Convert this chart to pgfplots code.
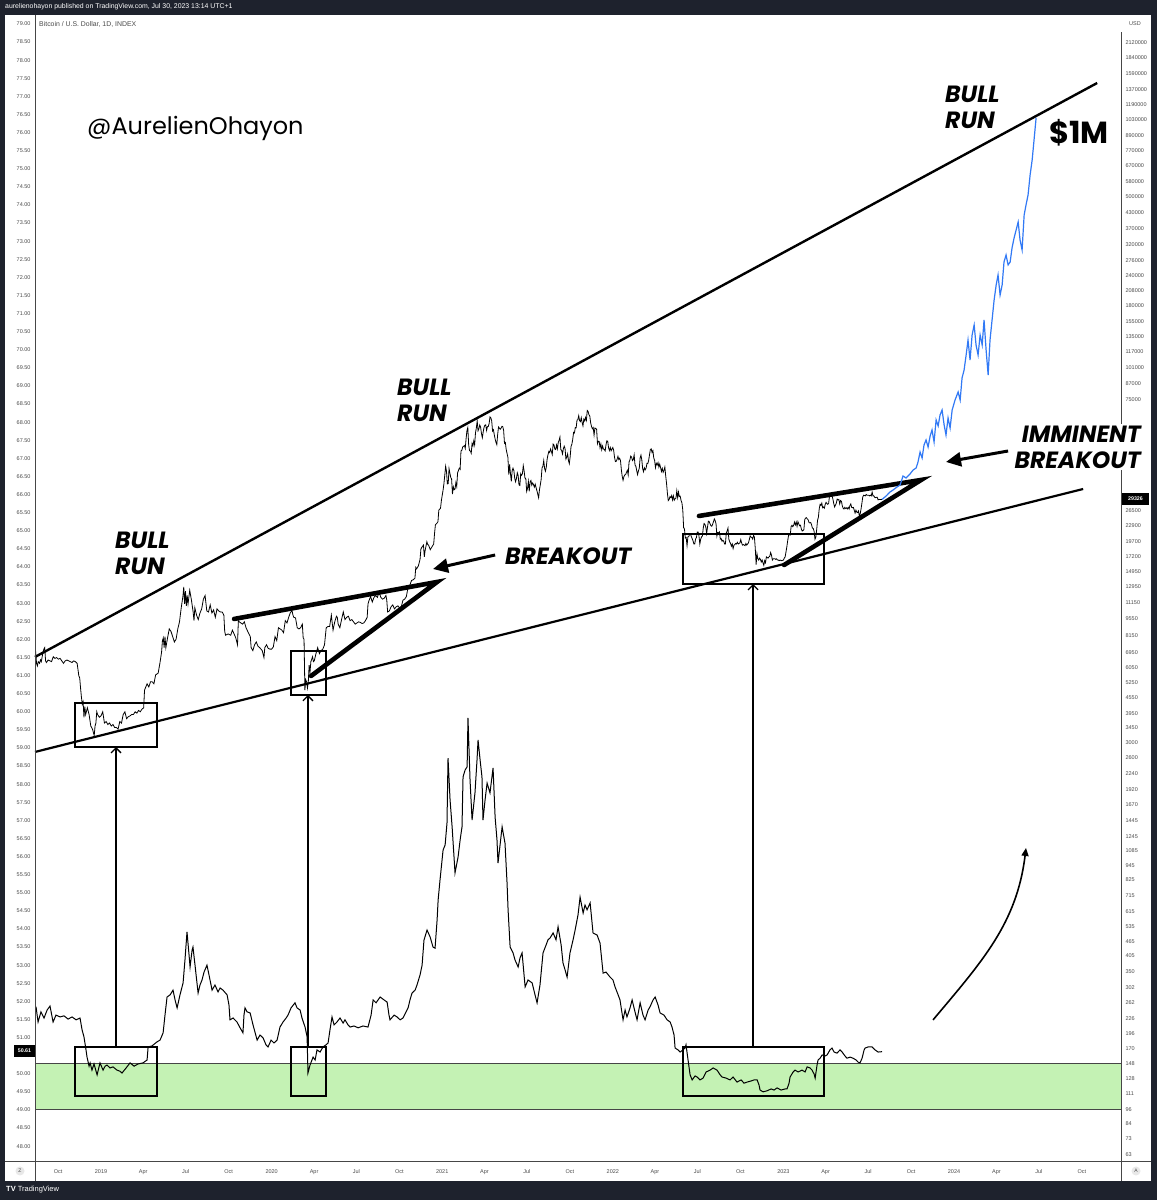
\documentclass[border=0pt]{standalone}
\usepackage{fontspec}
\setmainfont{Liberation Sans}
\newfontfamily\pop{Poppins}
\usepackage{pgfplots}
\pgfplotsset{compat=1.18}
\usetikzlibrary{arrows.meta}
\definecolor{tvdark}{RGB}{30,34,45}
\definecolor{tvgrey}{RGB}{75,75,75}
\definecolor{tvline}{RGB}{70,70,70}
\definecolor{bandgreen}{RGB}{196,242,180}
\definecolor{projblue}{RGB}{49,121,245}
\begin{document}
\begin{tikzpicture}[x=1pt,y=1pt]
\fill[tvdark] (0,0) rectangle (1157,1200);
\fill[white] (5,19) rectangle (1151,1185);
% ---------------- left (linear) axis: lower indicator ----------------
\begin{axis}[
  at={(35pt,39pt)}, anchor=south west, scale only axis,
  width=1086pt, height=1146pt,
  xmin=2018.613, xmax=2024.979, ymin=47.59, ymax=79.249,
  axis line style={draw=none}, tick style={draw=none},
  /pgf/number format/assume math mode=true,
  ytick={48,48.5,...,79},
  yticklabel={\pgfmathprintnumber[fixed,fixed zerofill,precision=2,assume math mode=true]{\tick}},
  yticklabel style={font=\fontsize{5.5}{6}\selectfont, text=tvgrey, anchor=east, xshift=-1pt},
  xtick={2018.748,2019,2019.247,2019.496,2019.748,2020,2020.249,2020.497,2020.749,2021,2021.247,2021.496,2021.748,2022,2022.247,2022.496,2022.748,2023,2023.247,2023.496,2023.748,2024,2024.249,2024.497,2024.749},
  xticklabels={Oct,2019,Apr,Jul,Oct,2020,Apr,Jul,Oct,2021,Apr,Jul,Oct,2022,Apr,Jul,Oct,2023,Apr,Jul,Oct,2024,Apr,Jul,Oct},
  xticklabel style={font=\fontsize{5.5}{6}\selectfont, text=tvgrey, anchor=center, yshift=-11pt},
  clip mode=individual,
]
\fill[bandgreen] (2018.613,49.0) rectangle (2024.979,50.27);
\draw[tvline, line width=1pt] (2018.613,50.27) -- (2024.979,50.27);
\draw[tvline, line width=1pt] (2018.613,49.0) -- (2024.979,49.0);
\addplot[black, line width=1pt] coordinates {
(2018.619,51.85)(2018.631,51.43)(2018.648,51.71)(2018.666,51.54)(2018.684,51.76)(2018.701,51.87)(2018.719,51.43)(2018.736,51.62)(2018.760,51.57)(2018.783,51.60)(2018.807,51.51)(2018.830,51.57)(2018.854,51.49)(2018.877,51.54)(2018.889,51.21)(2018.900,51.02)(2018.912,50.66)(2018.918,50.46)(2018.930,50.21)(2018.936,50.30)(2018.947,50.10)(2018.959,50.27)(2018.977,49.97)(2018.994,50.30)(2019.012,50.10)(2019.024,50.21)(2019.035,50.24)(2019.053,50.16)(2019.070,50.19)(2019.094,50.10)(2019.111,50.07)(2019.123,50.02)(2019.147,50.16)(2019.170,50.30)(2019.194,50.21)(2019.217,50.27)(2019.246,50.30)(2019.270,50.38)(2019.276,50.74)(2019.299,50.77)(2019.328,50.88)(2019.346,50.93)(2019.364,51.13)(2019.375,51.62)(2019.387,52.12)(2019.405,52.18)(2019.422,52.31)(2019.434,52.04)(2019.446,51.82)(2019.463,52.18)(2019.481,52.51)(2019.492,53.14)(2019.504,53.92)(2019.516,53.28)(2019.522,52.95)(2019.534,53.42)(2019.539,53.50)(2019.551,53.00)(2019.569,52.23)(2019.580,52.45)(2019.592,52.59)(2019.604,52.81)(2019.621,53.00)(2019.633,52.73)(2019.651,52.31)(2019.668,52.45)(2019.686,52.26)(2019.698,52.37)(2019.715,52.31)(2019.739,52.18)(2019.750,51.90)(2019.756,51.49)(2019.774,51.54)(2019.797,51.43)(2019.815,51.27)(2019.832,51.13)(2019.838,51.62)(2019.844,51.82)(2019.856,51.71)(2019.874,51.68)(2019.891,51.35)(2019.915,50.93)(2019.932,51.07)(2019.950,50.99)(2019.967,50.80)(2019.979,50.74)(2019.997,50.93)(2020.014,50.85)(2020.032,50.93)(2020.049,51.29)(2020.067,51.43)(2020.085,51.54)(2020.096,51.62)(2020.114,51.82)(2020.137,51.96)(2020.149,51.82)(2020.167,51.76)(2020.178,51.54)(2020.196,51.29)(2020.208,51.02)(2020.213,50.02)(2020.225,50.24)(2020.243,50.46)(2020.255,50.38)(2020.266,50.66)(2020.284,50.60)(2020.301,50.74)(2020.319,50.80)(2020.331,50.85)(2020.342,51.21)(2020.354,51.57)(2020.366,51.35)(2020.383,51.43)(2020.401,51.54)(2020.419,51.40)(2020.430,51.49)(2020.448,51.35)(2020.460,51.29)(2020.483,51.32)(2020.507,51.27)(2020.536,51.32)(2020.565,51.29)(2020.583,51.62)(2020.595,52.04)(2020.612,51.96)(2020.636,52.12)(2020.659,52.04)(2020.677,51.98)(2020.688,51.62)(2020.694,51.49)(2020.718,51.62)(2020.735,51.57)(2020.753,51.49)(2020.770,51.54)(2020.788,51.71)(2020.800,51.82)(2020.811,52.04)(2020.823,52.23)(2020.841,52.31)(2020.852,52.45)(2020.870,52.73)(2020.882,53.00)(2020.893,53.69)(2020.911,53.97)(2020.929,53.78)(2020.946,53.50)(2020.958,53.47)(2020.970,54.25)(2020.976,54.80)(2020.987,55.35)(2021.005,56.18)(2021.017,56.32)(2021.028,56.93)(2021.034,58.72)(2021.046,57.56)(2021.058,56.82)(2021.075,55.55)(2021.093,55.99)(2021.105,56.46)(2021.116,56.82)(2021.122,58.20)(2021.134,58.39)(2021.146,58.48)(2021.151,59.83)(2021.163,58.12)(2021.175,57.01)(2021.192,57.76)(2021.204,58.67)(2021.210,59.22)(2021.222,58.67)(2021.233,58.20)(2021.239,57.01)(2021.251,57.56)(2021.263,58.03)(2021.280,57.76)(2021.298,58.45)(2021.310,57.09)(2021.321,56.46)(2021.327,55.82)(2021.339,56.32)(2021.351,56.82)(2021.368,56.37)(2021.380,55.27)(2021.386,54.53)(2021.398,53.50)(2021.415,53.34)(2021.427,53.14)(2021.445,52.95)(2021.456,53.20)(2021.468,53.34)(2021.486,52.40)(2021.503,52.59)(2021.527,52.51)(2021.544,52.18)(2021.556,51.96)(2021.573,52.45)(2021.591,53.34)(2021.609,53.56)(2021.620,53.70)(2021.632,53.75)(2021.650,53.89)(2021.667,53.70)(2021.679,54.06)(2021.697,53.56)(2021.708,53.06)(2021.720,52.87)(2021.732,52.67)(2021.749,53.34)(2021.767,53.70)(2021.779,53.97)(2021.796,54.39)(2021.808,54.88)(2021.826,54.44)(2021.837,54.66)(2021.849,54.53)(2021.867,54.72)(2021.884,53.89)(2021.908,53.83)(2021.925,53.61)(2021.943,52.78)(2021.960,52.81)(2021.984,52.67)(2022.001,52.59)(2022.013,52.40)(2022.031,52.18)(2022.042,52.04)(2022.060,51.49)(2022.072,51.76)(2022.083,51.57)(2022.101,51.82)(2022.113,52.04)(2022.130,51.71)(2022.142,51.49)(2022.160,51.96)(2022.177,51.62)(2022.189,51.49)(2022.207,51.76)(2022.218,51.85)(2022.236,52.04)(2022.248,52.12)(2022.265,51.90)(2022.277,51.68)(2022.300,51.62)(2022.318,51.49)(2022.336,51.43)(2022.347,51.29)(2022.359,51.07)(2022.365,50.71)(2022.382,50.66)(2022.394,50.60)(2022.412,50.66)(2022.423,50.71)(2022.429,50.80)(2022.441,50.38)(2022.453,49.97)(2022.465,49.83)(2022.482,49.94)(2022.494,49.91)(2022.511,49.83)(2022.529,49.88)(2022.547,50.05)(2022.570,50.10)(2022.588,50.16)(2022.611,50.10)(2022.629,49.97)(2022.640,49.91)(2022.664,49.88)(2022.687,49.83)(2022.705,49.91)(2022.728,49.77)(2022.752,49.83)(2022.769,49.74)(2022.787,49.77)(2022.810,49.80)(2022.828,49.83)(2022.846,49.83)(2022.857,49.69)(2022.863,49.55)(2022.881,49.50)(2022.904,49.53)(2022.928,49.58)(2022.945,49.55)(2022.963,49.61)(2022.986,49.55)(2023.010,49.58)(2023.021,49.58)(2023.033,49.74)(2023.039,49.91)(2023.057,50.05)(2023.068,50.10)(2023.086,50.05)(2023.109,50.10)(2023.127,50.05)(2023.139,50.19)(2023.156,50.16)(2023.168,50.10)(2023.180,49.99)(2023.186,49.88)(2023.197,50.24)(2023.203,50.38)(2023.215,50.43)(2023.227,50.52)(2023.244,50.49)(2023.256,50.52)(2023.273,50.66)(2023.285,50.71)(2023.297,50.60)(2023.314,50.57)(2023.332,50.66)(2023.344,50.60)(2023.361,50.49)(2023.373,50.43)(2023.391,50.46)(2023.408,50.43)(2023.426,50.38)(2023.438,50.32)(2023.449,50.30)(2023.461,50.43)(2023.473,50.66)(2023.479,50.71)(2023.496,50.74)(2023.520,50.74)(2023.537,50.66)(2023.555,50.60)(2023.578,50.61)
};
% boxes
\draw[black, line width=1.4pt] (2018.848,59.027) rectangle (2019.328,60.243);
\draw[black, line width=1.4pt] (2020.114,60.465) rectangle (2020.319,61.680);
\draw[black, line width=1.4pt] (2022.412,63.531) rectangle (2023.238,64.912);
\draw[black, line width=1.4pt] (2018.848,49.386) rectangle (2019.328,50.740);
\draw[black, line width=1.4pt] (2020.114,49.386) rectangle (2020.319,50.740);
\draw[black, line width=1.4pt] (2022.412,49.386) rectangle (2023.238,50.740);
% vertical arrows
\draw[black, line width=1.3pt, -{Straight Barb[length=5pt,width=10pt,line width=1.3pt]}] (2019.088,50.740) -- (2019.088,59.027);
\draw[black, line width=1.3pt, -{Straight Barb[length=5pt,width=10pt,line width=1.3pt]}] (2020.213,50.740) -- (2020.213,60.465);
\draw[black, line width=1.3pt, -{Straight Barb[length=5pt,width=10pt,line width=1.3pt]}] (2022.822,50.740) -- (2022.822,63.531);
% long trend lines
\draw[black, line width=2.4pt] (2018.613,61.514) -- (2024.839,77.370);
\draw[black, line width=2.2pt] (2018.613,58.890) -- (2024.757,66.155);
% triangles
\draw[black, line width=4.6pt, line cap=round] (2019.780,62.564) -- (2020.970,63.586) -- (2020.231,60.989);
\draw[black, line width=4.6pt, line cap=round] (2022.505,65.409) -- (2023.807,66.404) -- (2023.004,64.055);
% arrows
\draw[black, line width=3pt, -{Triangle[length=15pt,width=14pt]}] (2021.310,64.331) -- (2020.946,63.944);
\draw[black, line width=3pt, -{Triangle[length=15pt,width=14pt]}] (2024.317,67.204) -- (2023.953,66.901);
\draw[black, line width=1.6pt, -{Triangle[length=8pt,width=7pt]}] (2023.877,51.488) to[out=50,in=-97] (2024.422,56.238);
\end{axis}
% ---------------- right (log) axis: BTC price ----------------
\begin{axis}[
  at={(35pt,39pt)}, anchor=south west, scale only axis,
  width=1086pt, height=1146pt,
  xmin=2018.613, xmax=2024.979, ymode=log, ymin=59.2, ymax=2756000,
  hide x axis, axis y line*=right,
  axis line style={draw=none}, tick style={draw=none},
  ytick={63,73,84,96,111,128,148,170,196,226,262,302,350,405,465,535,615,715,825,945,1085,1245,1445,1670,1920,2240,2600,3000,3450,3950,4550,5250,6050,6950,8150,9550,11150,12950,14950,17200,19700,22900,26500,75000,87000,101000,117000,135000,155000,180000,208000,240000,276000,320000,370000,430000,500000,580000,670000,770000,890000,1030000,1190000,1370000,1590000,1840000,2120000},
  yticklabels={63,73,84,96,111,128,148,170,196,226,262,302,350,405,465,535,615,715,825,945,1085,1245,1445,1670,1920,2240,2600,3000,3450,3950,4550,5250,6050,6950,8150,9550,11150,12950,14950,17200,19700,22900,26500,75000,87000,101000,117000,135000,155000,180000,208000,240000,276000,320000,370000,430000,500000,580000,670000,770000,890000,1030000,1190000,1370000,1590000,1840000,2120000},
  yticklabel style={font=\fontsize{5.5}{6}\selectfont, text=tvgrey, anchor=west, xshift=1pt},
  minor tick num=0,
]
\addplot[black, line width=0.8pt] coordinates {
(2018.613,7350)(2018.617,7000)(2018.622,6300)(2018.627,6150)(2018.632,6400)(2018.640,6300)(2018.645,6500)(2018.650,6400)(2018.655,6700)(2018.660,7000)(2018.665,7200)(2018.670,7300)(2018.675,6450)(2018.680,6350)(2018.690,6500)(2018.700,6450)(2018.710,6400)(2018.720,6700)(2018.730,6600)(2018.740,6650)(2018.750,6550)(2018.760,6600)(2018.770,6450)(2018.780,6300)(2018.790,6450)(2018.800,6500)(2018.810,6450)(2018.820,6400)(2018.830,6350)(2018.840,6450)(2018.850,6400)(2018.860,6300)(2018.870,5600)(2018.875,5500)(2018.880,5000)(2018.885,4600)(2018.890,4300)(2018.895,4400)(2018.900,3800)(2018.905,4200)(2018.910,3900)(2018.920,4150)(2018.930,3900)(2018.940,3500)(2018.950,3400)(2018.960,3200)(2018.965,3500)(2018.970,3600)(2018.975,4000)(2018.980,3900)(2018.990,3800)(2019.000,3850)(2019.010,4000)(2019.020,3600)(2019.030,3650)(2019.040,3550)(2019.050,3600)(2019.060,3500)(2019.070,3550)(2019.080,3450)(2019.090,3450)(2019.100,3400)(2019.110,3650)(2019.120,3600)(2019.130,3900)(2019.140,4000)(2019.150,3750)(2019.160,3820)(2019.170,3850)(2019.180,3900)(2019.190,3900)(2019.200,4000)(2019.210,3950)(2019.220,4050)(2019.230,4000)(2019.240,4100)(2019.250,4150)(2019.255,4900)(2019.260,5000)(2019.270,5200)(2019.280,5050)(2019.290,5300)(2019.300,5300)(2019.310,5200)(2019.320,5650)(2019.335,5750)(2019.345,6300)(2019.355,7000)(2019.360,7800)(2019.365,8000)(2019.370,7300)(2019.375,8100)(2019.380,7300)(2019.390,8000)(2019.400,8700)(2019.410,8500)(2019.420,8100)(2019.430,7700)(2019.440,7900)(2019.450,8700)(2019.460,9300)(2019.470,10600)(2019.480,11800)(2019.485,12900)(2019.490,11000)(2019.495,12400)(2019.500,10800)(2019.505,11900)(2019.510,11000)(2019.520,12500)(2019.530,11400)(2019.540,10200)(2019.545,9400)(2019.550,10600)(2019.560,9900)(2019.570,9500)(2019.580,10100)(2019.590,10500)(2019.600,11500)(2019.610,11900)(2019.620,10300)(2019.630,10200)(2019.640,10900)(2019.650,10100)(2019.660,10400)(2019.670,9700)(2019.680,10500)(2019.690,10300)(2019.700,10200)(2019.710,10200)(2019.720,9900)(2019.725,8500)(2019.730,8200)(2019.745,8300)(2019.760,8200)(2019.770,8600)(2019.780,8300)(2019.790,8000)(2019.800,7500)(2019.805,9400)(2019.810,9300)(2019.820,9200)(2019.830,9100)(2019.840,9300)(2019.850,8800)(2019.860,8500)(2019.875,8100)(2019.880,7300)(2019.890,7100)(2019.900,7500)(2019.910,7700)(2019.920,7400)(2019.930,7300)(2019.945,7100)(2019.955,6650)(2019.960,7300)(2019.970,7500)(2019.980,7250)(2019.990,7200)(2020.000,7200)(2020.010,7350)(2020.020,8100)(2020.030,7800)(2020.040,8800)(2020.050,8700)(2020.060,8600)(2020.070,8400)(2020.080,9400)(2020.090,9200)(2020.100,9700)(2020.110,10150)(2020.120,10300)(2020.125,9900)(2020.130,9700)(2020.140,9650)(2020.150,8800)(2020.160,8700)(2020.170,8800)(2020.180,9100)(2020.185,8000)(2020.190,7900)(2020.195,4900)(2020.200,5400)(2020.205,5300)(2020.210,5000)(2020.215,5300)(2020.220,6200)(2020.225,5800)(2020.230,6400)(2020.240,6700)(2020.245,6400)(2020.250,6450)(2020.260,6900)(2020.270,7300)(2020.280,6900)(2020.290,7100)(2020.300,7200)(2020.310,7500)(2020.320,8800)(2020.330,8900)(2020.340,8900)(2020.350,9900)(2020.360,8600)(2020.370,9300)(2020.380,9800)(2020.385,9700)(2020.390,9100)(2020.400,8800)(2020.410,9500)(2020.420,10200)(2020.430,9500)(2020.440,9700)(2020.450,9800)(2020.460,9400)(2020.470,9500)(2020.480,9300)(2020.490,9100)(2020.500,9200)(2020.510,9300)(2020.520,9250)(2020.530,9150)(2020.540,9200)(2020.550,9400)(2020.560,9700)(2020.565,11000)(2020.570,11300)(2020.580,11800)(2020.590,11200)(2020.600,11700)(2020.610,11900)(2020.620,11700)(2020.630,12300)(2020.640,11700)(2020.650,11500)(2020.660,11600)(2020.670,11900)(2020.675,11400)(2020.680,10200)(2020.690,10300)(2020.700,10700)(2020.710,10900)(2020.720,10500)(2020.730,10700)(2020.740,10800)(2020.750,10600)(2020.760,10700)(2020.770,11400)(2020.780,11500)(2020.790,11800)(2020.800,12900)(2020.810,13100)(2020.820,13700)(2020.830,13800)(2020.840,14000)(2020.845,15500)(2020.850,15300)(2020.860,15700)(2020.870,16700)(2020.875,18400)(2020.880,18700)(2020.890,19100)(2020.895,17100)(2020.900,18200)(2020.910,19700)(2020.915,19200)(2020.920,19100)(2020.930,18300)(2020.940,18800)(2020.950,19300)(2020.955,21300)(2020.960,23100)(2020.970,23500)(2020.975,23800)(2020.980,26500)(2020.990,27000)(2020.995,29000)(2021.005,32000)(2021.010,34000)(2021.015,36800)(2021.020,40000)(2021.025,38200)(2021.030,33900)(2021.035,34000)(2021.040,39100)(2021.050,36000)(2021.055,35500)(2021.060,30800)(2021.065,33000)(2021.070,32100)(2021.075,32300)(2021.080,34300)(2021.085,33100)(2021.090,37600)(2021.100,39300)(2021.105,38900)(2021.110,46200)(2021.115,46500)(2021.120,47900)(2021.130,48600)(2021.135,47300)(2021.140,51900)(2021.145,55900)(2021.150,57500)(2021.155,48900)(2021.160,46300)(2021.165,46200)(2021.170,45200)(2021.175,49600)(2021.180,48400)(2021.185,50800)(2021.190,48900)(2021.195,54800)(2021.200,57300)(2021.205,61200)(2021.210,55800)(2021.215,56900)(2021.220,58900)(2021.225,57700)(2021.230,54400)(2021.235,52300)(2021.240,55100)(2021.245,57600)(2021.250,58800)(2021.255,59000)(2021.260,56000)(2021.265,58000)(2021.270,58100)(2021.275,59800)(2021.280,63500)(2021.285,63000)(2021.290,61300)(2021.295,55700)(2021.300,56400)(2021.305,53800)(2021.310,51700)(2021.315,50100)(2021.320,49000)(2021.325,54000)(2021.330,57800)(2021.335,57200)(2021.340,56600)(2021.345,57200)(2021.350,58200)(2021.355,58000)(2021.360,55900)(2021.365,49600)(2021.370,50000)(2021.375,46800)(2021.380,45100)(2021.385,43500)(2021.390,37000)(2021.395,40700)(2021.400,37300)(2021.405,34700)(2021.410,38400)(2021.415,39300)(2021.420,38400)(2021.425,35700)(2021.430,34600)(2021.435,35700)(2021.440,37600)(2021.445,36700)(2021.450,33600)(2021.455,33400)(2021.460,37300)(2021.465,36700)(2021.470,37300)(2021.475,40200)(2021.480,38300)(2021.485,35800)(2021.490,35600)(2021.495,31600)(2021.500,32500)(2021.505,34700)(2021.510,31600)(2021.515,34500)(2021.520,35000)(2021.525,33500)(2021.530,34200)(2021.535,33700)(2021.540,32900)(2021.545,33800)(2021.550,32800)(2021.555,31800)(2021.560,30800)(2021.565,29800)(2021.570,32100)(2021.575,33600)(2021.580,35400)(2021.585,39400)(2021.590,40000)(2021.595,42200)(2021.600,39200)(2021.605,38200)(2021.610,39700)(2021.615,42800)(2021.620,44600)(2021.625,46000)(2021.630,45500)(2021.635,47000)(2021.640,45900)(2021.645,44700)(2021.650,49300)(2021.655,48900)(2021.660,47000)(2021.665,46800)(2021.670,48800)(2021.675,47100)(2021.680,50000)(2021.685,51000)(2021.690,52600)(2021.695,46800)(2021.700,46400)(2021.705,44900)(2021.710,47100)(2021.715,48300)(2021.720,47200)(2021.725,42800)(2021.730,43600)(2021.735,44900)(2021.740,42200)(2021.745,41000)(2021.750,43800)(2021.755,48200)(2021.760,49200)(2021.765,51500)(2021.770,55000)(2021.775,54700)(2021.780,57500)(2021.785,57400)(2021.790,61600)(2021.795,62000)(2021.800,64300)(2021.805,61400)(2021.810,60800)(2021.815,63100)(2021.820,60300)(2021.825,58400)(2021.830,62200)(2021.835,61200)(2021.840,63200)(2021.845,61500)(2021.850,67500)(2021.855,66900)(2021.860,64900)(2021.865,64100)(2021.870,60200)(2021.875,58100)(2021.880,56900)(2021.885,57500)(2021.890,53600)(2021.895,57300)(2021.900,57000)(2021.905,56600)(2021.910,49400)(2021.915,50600)(2021.920,50500)(2021.925,47600)(2021.930,49300)(2021.935,46700)(2021.940,48400)(2021.945,47000)(2021.950,46900)(2021.955,46200)(2021.960,48900)(2021.965,50800)(2021.970,50600)(2021.975,47600)(2021.980,46400)(2021.985,47700)(2021.990,46300)(2022.000,47700)(2022.005,46400)(2022.010,43500)(2022.015,41800)(2022.020,41900)(2022.025,42700)(2022.030,43900)(2022.035,42600)(2022.040,43100)(2022.045,42200)(2022.050,38700)(2022.055,36400)(2022.060,35100)(2022.065,36300)(2022.070,36900)(2022.075,37000)(2022.080,37800)(2022.085,38500)(2022.090,36900)(2022.095,41600)(2022.100,42400)(2022.105,44000)(2022.110,43600)(2022.115,42200)(2022.120,42600)(2022.125,44500)(2022.130,40500)(2022.135,40000)(2022.140,38400)(2022.145,37000)(2022.150,38300)(2022.155,39200)(2022.160,43200)(2022.165,44400)(2022.170,42400)(2022.175,39100)(2022.180,38000)(2022.185,39400)(2022.190,38700)(2022.195,39300)(2022.200,41100)(2022.205,41000)(2022.210,42300)(2022.215,44500)(2022.220,46800)(2022.225,47100)(2022.230,45500)(2022.235,46300)(2022.240,43200)(2022.245,42300)(2022.250,39500)(2022.255,41100)(2022.260,40500)(2022.265,41400)(2022.270,39700)(2022.275,40800)(2022.280,39500)(2022.285,38100)(2022.290,39200)(2022.295,37800)(2022.300,38500)(2022.305,39700)(2022.310,36500)(2022.315,34000)(2022.320,31000)(2022.325,29000)(2022.330,29300)(2022.335,30100)(2022.340,29800)(2022.345,30400)(2022.350,29200)(2022.355,30300)(2022.360,29100)(2022.365,29500)(2022.370,29700)(2022.375,31800)(2022.380,29800)(2022.385,31400)(2022.390,30100)(2022.395,30200)(2022.400,29000)(2022.405,28400)(2022.410,26600)(2022.415,22500)(2022.420,22200)(2022.425,20400)(2022.430,20500)(2022.435,19000)(2022.440,20600)(2022.445,20700)(2022.450,21100)(2022.455,21200)(2022.460,20700)(2022.465,20300)(2022.470,19900)(2022.475,19300)(2022.480,19300)(2022.485,20200)(2022.490,20500)(2022.495,21600)(2022.500,21600)(2022.505,20800)(2022.510,19300)(2022.515,20200)(2022.520,20600)(2022.525,20800)(2022.530,22400)(2022.535,23400)(2022.540,23200)(2022.545,22600)(2022.550,21300)(2022.555,22600)(2022.560,23900)(2022.565,23800)(2022.570,23300)(2022.575,22900)(2022.580,22800)(2022.585,23200)(2022.590,23800)(2022.595,24400)(2022.600,24000)(2022.605,23300)(2022.610,20800)(2022.615,21500)(2022.620,21400)(2022.625,21600)(2022.630,20200)(2022.635,20300)(2022.640,19800)(2022.645,20000)(2022.650,19800)(2022.655,19300)(2022.660,19300)(2022.665,21400)(2022.670,21800)(2022.675,22400)(2022.680,20200)(2022.685,19700)(2022.690,19400)(2022.695,18900)(2022.700,19300)(2022.705,18500)(2022.710,19100)(2022.715,19200)(2022.720,19400)(2022.725,19300)(2022.730,19600)(2022.735,19300)(2022.740,19400)(2022.745,19500)(2022.750,20100)(2022.755,19500)(2022.760,19100)(2022.765,19200)(2022.770,19100)(2022.775,19000)(2022.780,19400)(2022.785,19100)(2022.790,19300)(2022.795,19500)(2022.800,20100)(2022.805,20800)(2022.810,20600)(2022.815,20500)(2022.820,20200)(2022.825,20900)(2022.830,20600)(2022.835,18500)(2022.840,15900)(2022.845,17600)(2022.850,16800)(2022.855,16600)(2022.860,16900)(2022.865,16700)(2022.870,16300)(2022.875,16600)(2022.880,16200)(2022.885,15800)(2022.890,16500)(2022.895,16200)(2022.900,17100)(2022.905,17000)(2022.910,16900)(2022.915,17100)(2022.920,17200)(2022.925,17800)(2022.930,17400)(2022.935,16600)(2022.940,16800)(2022.945,16800)(2022.950,16800)(2022.955,16700)(2022.960,16800)(2022.965,16600)(2022.970,16600)(2022.975,16500)(2022.980,16600)(2022.990,16500)(2023.000,16600)(2023.005,16900)(2023.010,17100)(2023.015,17900)(2023.020,18800)(2023.025,19900)(2023.030,20900)(2023.035,21100)(2023.040,21000)(2023.045,22700)(2023.050,23000)(2023.055,22700)(2023.060,23000)(2023.065,23700)(2023.070,23100)(2023.075,23700)(2023.080,22800)(2023.085,23800)(2023.090,23300)(2023.095,22900)(2023.100,23000)(2023.105,22200)(2023.110,21800)(2023.115,21900)(2023.120,22100)(2023.125,24300)(2023.130,24600)(2023.135,24700)(2023.140,24400)(2023.145,24200)(2023.150,23600)(2023.155,23500)(2023.160,23600)(2023.165,23100)(2023.170,22400)(2023.175,22300)(2023.180,21700)(2023.185,20200)(2023.190,20600)(2023.195,22100)(2023.200,24100)(2023.205,24800)(2023.210,26900)(2023.215,28000)(2023.220,27700)(2023.225,28300)(2023.230,27100)(2023.235,27300)(2023.240,27000)(2023.245,28000)(2023.250,28500)(2023.255,28200)(2023.260,28000)(2023.265,28300)(2023.270,30200)(2023.275,30300)(2023.280,30400)(2023.285,30300)(2023.290,29400)(2023.295,28200)(2023.300,27300)(2023.305,27800)(2023.310,28300)(2023.315,29400)(2023.320,29200)(2023.325,29300)(2023.330,28100)(2023.335,29000)(2023.340,28800)(2023.345,27600)(2023.350,27000)(2023.355,26800)(2023.360,27200)(2023.365,26900)(2023.370,27100)(2023.375,26800)(2023.380,27200)(2023.385,26800)(2023.390,27700)(2023.395,28100)(2023.400,27200)(2023.405,27100)(2023.410,27200)(2023.415,26500)(2023.420,25800)(2023.425,26500)(2023.430,26000)(2023.435,25900)(2023.440,26300)(2023.445,25100)(2023.450,25600)(2023.455,26800)(2023.460,28300)(2023.465,30000)(2023.470,30500)(2023.475,30400)(2023.480,30300)(2023.485,30700)(2023.490,30500)(2023.500,30500)(2023.505,30300)(2023.510,30500)(2023.515,30300)(2023.520,31400)(2023.525,30300)(2023.530,30300)(2023.535,29900)(2023.540,29800)(2023.545,29900)(2023.550,29900)(2023.555,29200)(2023.560,29300)(2023.565,29300)(2023.570,29300)(2023.577,29326)
};
\addplot[projblue, line width=1.2pt] coordinates {
(2023.578,29300)(2023.602,30270)(2023.625,31430)(2023.643,32030)(2023.666,32940)(2023.684,33560)(2023.701,36520)(2023.719,35830)(2023.742,37210)(2023.760,38630)(2023.778,39370)(2023.789,41650)(2023.801,45730)(2023.813,43230)(2023.824,48830)(2023.836,51190)(2023.848,47920)(2023.860,53150)(2023.871,56230)(2023.883,50230)(2023.895,61750)(2023.907,58380)(2023.918,64710)(2023.930,67810)(2023.942,58920)(2023.953,53640)(2023.965,62920)(2023.977,57280)(2023.989,67810)(2024.006,74470)(2024.024,80300)(2024.036,74470)(2024.047,91560)(2024.059,98660)(2024.071,113600)(2024.082,130700)(2024.094,108400)(2024.106,137000)(2024.118,150500)(2024.129,124800)(2024.141,113600)(2024.153,137000)(2024.165,124800)(2024.176,157800)(2024.188,119100)(2024.200,94170)(2024.211,130700)(2024.223,157800)(2024.235,190300)(2024.247,219000)(2024.258,240600)(2024.270,199400)(2024.282,219000)(2024.293,271800)(2024.305,290200)(2024.317,264300)(2024.329,271800)(2024.340,310000)(2024.352,340400)(2024.364,366900)(2024.376,395500)(2024.387,334100)(2024.399,304300)(2024.411,422300)(2024.422,463900)(2024.434,509500)(2024.446,614900)(2024.458,707400)(2024.469,853300)(2024.481,1048600)
};
\end{axis}
% ---------------- frame chrome ----------------
\draw[tvline, line width=0.8pt] (35,19) -- (35,1185);
\draw[tvline, line width=0.8pt] (1121,19) -- (1121,1168);
\draw[tvline, line width=0.8pt] (5,39) -- (1151,39);
\node[anchor=west, text=white, font=\fontsize{6.9}{8}\selectfont, inner sep=0pt] at (5,1193) {aurelienohayon published on TradingView.com, Jul 30, 2023 13:14 UTC+1};
\node[anchor=west, text=tvgrey, font=\fontsize{6.9}{8}\selectfont, inner sep=0pt] at (39,1176) {Bitcoin / U.S. Dollar, 1D, INDEX};
\node[text=tvgrey, font=\fontsize{5.5}{6}\selectfont] at (1135,1176) {USD};
\fill[black] (14,143) rectangle (35,155);
\node[text=white, font=\bfseries\fontsize{5.3}{6}\selectfont] at (24.5,149) {50.61};
\fill[black] (1122,695) rectangle (1149,707);
\node[text=white, font=\bfseries\fontsize{5.3}{6}\selectfont] at (1135.5,701) {29326};
\fill[gray!18] (20,29) circle (4.5);
\node[text=tvgrey, font=\fontsize{5}{6}\selectfont] at (20,29) {Z};
\fill[gray!18] (1136,29) circle (4.5);
\node[text=tvgrey, font=\fontsize{5}{6}\selectfont] at (1136,29) {A};
\node[anchor=west, text=white, font=\bfseries\fontsize{7.5}{8}\selectfont, inner sep=0pt] at (6,10) {TV\hspace{2pt}\mdseries TradingView};
% ---------------- annotations ----------------
\node[anchor=west, inner sep=0pt, font=\pop\fontsize{24}{28}\selectfont] at (87,1072) {@AurelienOhayon};
\node[anchor=west, align=left, inner sep=0pt, font=\pop\bfseries\itshape\fontsize{23.5}{26}\selectfont] at (115,647) {BULL\\RUN};
\node[anchor=west, align=left, inner sep=0pt, font=\pop\bfseries\itshape\fontsize{23.5}{26}\selectfont] at (397,800) {BULL\\RUN};
\node[anchor=west, align=left, inner sep=0pt, font=\pop\bfseries\itshape\fontsize{23.5}{26}\selectfont] at (945,1093) {BULL\\RUN};
\node[inner sep=0pt, font=\pop\bfseries\fontsize{30.5}{32}\selectfont] at (1079,1067) {\$1M};
\node[anchor=west, inner sep=0pt, font=\pop\bfseries\itshape\fontsize{23.5}{26}\selectfont] at (505,644) {BREAKOUT};
\node[anchor=east, align=right, fill=white, inner sep=2pt, font=\pop\bfseries\itshape\fontsize{23.5}{26}\selectfont] at (1143,753) {IMMINENT\\BREAKOUT};
\end{tikzpicture}
\end{document}
